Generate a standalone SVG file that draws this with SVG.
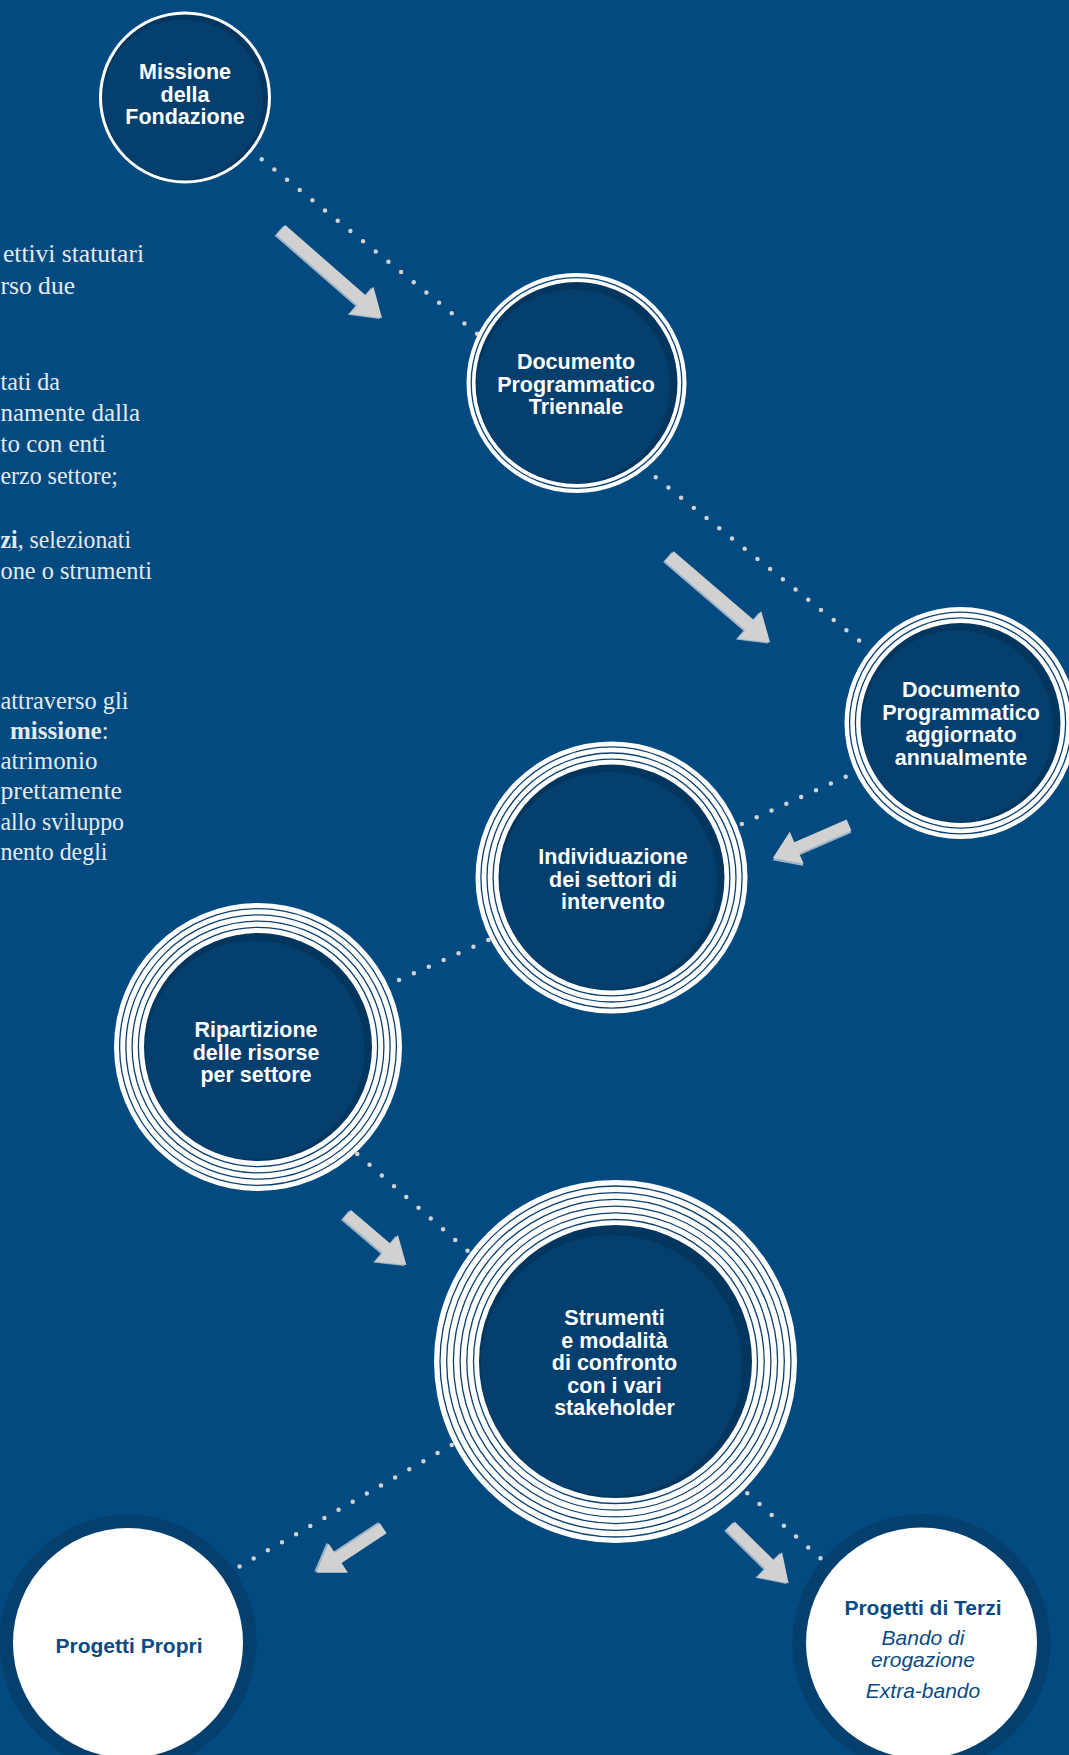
<svg xmlns="http://www.w3.org/2000/svg" width="1069" height="1755" viewBox="0 0 1069 1755">
<style>
.bg{fill:#024a7f}
.lbl{font-family:"Liberation Sans",Arial,sans-serif;font-weight:bold;font-size:21.5px;fill:#ffffff;text-anchor:middle}
.blbl{font-family:"Liberation Sans",Arial,sans-serif;font-size:21px;fill:#0b4a82;text-anchor:middle}
.body{font-family:"Liberation Serif","Times New Roman",serif;font-size:25px;fill:#e4eaf0}
.dots{stroke:#d2d2d2;stroke-width:4.5;stroke-linecap:round;stroke-dasharray:0 16.3;fill:none}
.sep{fill:none;stroke:#0b4173;stroke-width:1.3}
.white{fill:#ffffff}
.shade{fill:#03365f}
.fill{fill:#043f6d}
.arr{fill:#d1d1d1}
.arrs{fill:#9fb3c8}
.ring{fill:#043f6d}
</style>
<rect class="bg" x="0" y="0" width="1069" height="1755"/>

<g id="body-text">
<text class="body" x="3" y="262" textLength="141" lengthAdjust="spacingAndGlyphs">ettivi statutari</text>
<text class="body" x="0.5" y="293.5" textLength="74.5" lengthAdjust="spacingAndGlyphs">rso due</text>
<text class="body" x="0.5" y="389.7" textLength="59.5" lengthAdjust="spacingAndGlyphs">tati da</text>
<text class="body" x="0.5" y="421" textLength="139.5" lengthAdjust="spacingAndGlyphs">namente dalla</text>
<text class="body" x="0.5" y="452" textLength="105.5" lengthAdjust="spacingAndGlyphs">to con enti</text>
<text class="body" x="0.5" y="483.5" textLength="117.5" lengthAdjust="spacingAndGlyphs">erzo settore;</text>
<text class="body" x="0.5" y="548" textLength="130.5" lengthAdjust="spacingAndGlyphs"><tspan font-weight="bold">zi</tspan>, selezionati</text>
<text class="body" x="0.5" y="578.6" textLength="151.5" lengthAdjust="spacingAndGlyphs">one o strumenti</text>
<text class="body" x="0.5" y="709" textLength="128" lengthAdjust="spacingAndGlyphs">attraverso gli</text>
<text class="body" x="10" y="739"><tspan font-weight="bold">missione</tspan>:</text>
<text class="body" x="0.5" y="769" textLength="97" lengthAdjust="spacingAndGlyphs">atrimonio</text>
<text class="body" x="0.5" y="799" textLength="121.5" lengthAdjust="spacingAndGlyphs">prettamente</text>
<text class="body" x="0.5" y="829.5" textLength="123.5" lengthAdjust="spacingAndGlyphs">allo sviluppo</text>
<text class="body" x="0.5" y="860" textLength="107" lengthAdjust="spacingAndGlyphs">nento degli</text>
</g>

<g id="connectors">
<line class="dots" x1="261.7" y1="159.3" x2="480" y2="336"/>
<line class="dots" x1="655.7" y1="477.3" x2="861" y2="642"/>
<line class="dots" x1="845.7" y1="776.7" x2="739" y2="825.2"/>
<line class="dots" x1="488.3" y1="940" x2="390" y2="984"/>
<line class="dots" x1="357.3" y1="1154" x2="470" y2="1253"/>
<line class="dots" x1="451.7" y1="1445" x2="237" y2="1568"/>
<line class="dots" x1="747.3" y1="1493.3" x2="822.5" y2="1560"/>

<g transform="translate(281,230) rotate(41.1)">
<path class="arrs" transform="translate(-1,2)" d="M0,-6.5 L107,-6.5 L107,-18 L134,0 L107,18 L107,6.5 L0,6.5 Z"/>
<path class="arr" d="M0,-6.5 L107,-6.5 L107,-18 L134,0 L107,18 L107,6.5 L0,6.5 Z"/>
</g>
<g transform="translate(669.4,556.3) rotate(40.6)">
<path class="arrs" transform="translate(-1,2)" d="M0,-6.5 L105.6,-6.5 L105.6,-18 L132.6,0 L105.6,18 L105.6,6.5 L0,6.5 Z"/>
<path class="arr" d="M0,-6.5 L105.6,-6.5 L105.6,-18 L132.6,0 L105.6,18 L105.6,6.5 L0,6.5 Z"/>
</g>
<g transform="translate(849,825) rotate(156.5)">
<path class="arrs" transform="translate(1,-2)" d="M0,-6 L57,-6 L57,-17.5 L83,0 L57,17.5 L57,6 L0,6 Z"/>
<path class="arr" d="M0,-6 L57,-6 L57,-17.5 L83,0 L57,17.5 L57,6 L0,6 Z"/>
</g>
<g transform="translate(347,1214.5) rotate(40.4)">
<path class="arrs" transform="translate(-1,2)" d="M0,-6 L52,-6 L52,-17.5 L78,0 L52,17.5 L52,6 L0,6 Z"/>
<path class="arr" d="M0,-6 L52,-6 L52,-17.5 L78,0 L52,17.5 L52,6 L0,6 Z"/>
</g>
<g transform="translate(383.3,1528.3) rotate(146.5)">
<path class="arrs" transform="translate(1,2)" d="M0,-6 L54,-6 L54,-17.5 L80.4,0 L54,17.5 L54,6 L0,6 Z"/>
<path class="arr" d="M0,-6 L54,-6 L54,-17.5 L80.4,0 L54,17.5 L54,6 L0,6 Z"/>
</g>
<g transform="translate(730.6,1526) rotate(44.6)">
<path class="arrs" transform="translate(-1,2)" d="M0,-6 L55,-6 L55,-17.5 L81.5,0 L55,17.5 L55,6 L0,6 Z"/>
<path class="arr" d="M0,-6 L55,-6 L55,-17.5 L81.5,0 L55,17.5 L55,6 L0,6 Z"/>
</g>
</g>

<g id="missione">
<circle class="white" cx="185" cy="97.5" r="86"/>
<circle class="shade" cx="185" cy="97.5" r="83"/>
<circle class="fill" cx="183" cy="99.5" r="80"/>
<text class="lbl" x="185" y="79.3">Missione</text>
<text class="lbl" x="185" y="101.8">della</text>
<text class="lbl" x="185" y="124.3">Fondazione</text>
</g>

<g id="triennale">
<circle class="white" cx="576.5" cy="383" r="110"/>
<circle class="sep" cx="576.5" cy="383" r="105.3"/>
<circle class="shade" cx="576.5" cy="383" r="101"/>
<circle class="fill" cx="573.5" cy="386" r="96.5"/>
<text class="lbl" x="576" y="369.3">Documento</text>
<text class="lbl" x="576" y="391.6">Programmatico</text>
<text class="lbl" x="576" y="414">Triennale</text>
</g>

<g id="annuale">
<circle class="white" cx="960.5" cy="723" r="116"/>
<circle class="sep" cx="960.5" cy="723" r="110.9"/>
<circle class="sep" cx="960.5" cy="723" r="105.1"/>
<circle class="shade" cx="960.5" cy="723" r="100"/>
<circle class="fill" cx="957.5" cy="726" r="95.5"/>
<text class="lbl" x="961" y="697.3">Documento</text>
<text class="lbl" x="961" y="719.8">Programmatico</text>
<text class="lbl" x="961" y="742.3">aggiornato</text>
<text class="lbl" x="961" y="764.8">annualmente</text>
</g>

<g id="individuazione">
<circle class="white" cx="611.5" cy="877.5" r="136"/>
<circle class="sep" cx="611.5" cy="877.5" r="130.6"/>
<circle class="sep" cx="611.5" cy="877.5" r="124.5"/>
<circle class="sep" cx="611.5" cy="877.5" r="118.4"/>
<circle class="shade" cx="611.5" cy="877.5" r="113"/>
<circle class="fill" cx="608.5" cy="880.5" r="108.5"/>
<text class="lbl" x="613" y="864.3">Individuazione</text>
<text class="lbl" x="613" y="886.8">dei settori di</text>
<text class="lbl" x="613" y="909.3">intervento</text>
</g>

<g id="ripartizione">
<circle class="white" cx="258" cy="1047" r="144"/>
<circle class="sep" cx="258" cy="1047" r="138.4"/>
<circle class="sep" cx="258" cy="1047" r="132.1"/>
<circle class="sep" cx="258" cy="1047" r="125.9"/>
<circle class="sep" cx="258" cy="1047" r="119.6"/>
<circle class="shade" cx="258" cy="1047" r="114"/>
<circle class="fill" cx="255" cy="1050" r="109.5"/>
<text class="lbl" x="256" y="1037">Ripartizione</text>
<text class="lbl" x="256" y="1059.5">delle risorse</text>
<text class="lbl" x="256" y="1082">per settore</text>
</g>

<g id="strumenti">
<circle class="white" cx="615.5" cy="1361.5" r="181.5"/>
<circle class="sep" cx="615.5" cy="1361.5" r="175.5"/>
<circle class="sep" cx="615.5" cy="1361.5" r="168.8"/>
<circle class="sep" cx="615.5" cy="1361.5" r="162.1"/>
<circle class="sep" cx="615.5" cy="1361.5" r="155.4"/>
<circle class="sep" cx="615.5" cy="1361.5" r="148.7"/>
<circle class="sep" cx="615.5" cy="1361.5" r="142"/>
<circle class="shade" cx="615.5" cy="1361.5" r="136.5"/>
<circle class="fill" cx="611.5" cy="1365.5" r="130.5"/>
<text class="lbl" x="614.5" y="1325">Strumenti</text>
<text class="lbl" x="614.5" y="1347.6">e modalità</text>
<text class="lbl" x="614.5" y="1370.2">di confronto</text>
<text class="lbl" x="614.5" y="1392.8">con i vari</text>
<text class="lbl" x="614.5" y="1415.4">stakeholder</text>
</g>

<g id="propri">
<circle class="ring" cx="128" cy="1643" r="128.5"/>
<circle class="white" cx="128" cy="1643" r="115"/>
<text class="blbl" x="129" y="1653.3" font-weight="bold">Progetti Propri</text>
</g>

<g id="terzi">
<circle class="ring" cx="921.5" cy="1643" r="129"/>
<circle class="white" cx="921.5" cy="1643" r="115.5"/>
<text class="blbl" x="923" y="1615" font-weight="bold">Progetti di Terzi</text>
<text class="blbl" x="923" y="1645" font-style="italic">Bando di</text>
<text class="blbl" x="923" y="1666.7" font-style="italic">erogazione</text>
<text class="blbl" x="923" y="1698" font-style="italic">Extra-bando</text>
</g>
</svg>
